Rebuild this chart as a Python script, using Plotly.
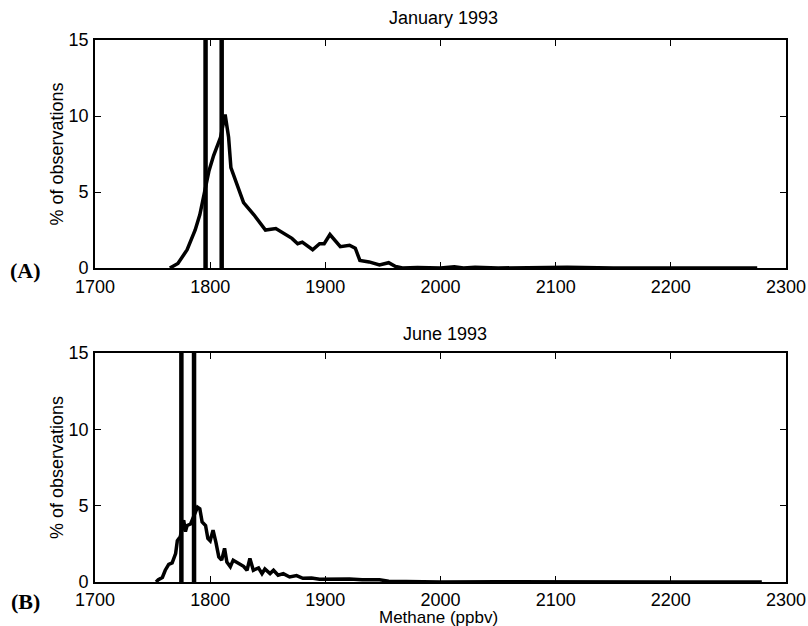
import plotly.graph_objects as go

# Methane frequency distributions (% of observations per ppbv bin)
jan_ppbv = [1765, 1772, 1780, 1787, 1791, 1794, 1799, 1803, 1809, 1813, 1816, 1818,
            1822, 1829, 1838, 1848, 1857, 1863, 1871, 1876, 1880, 1889, 1895, 1899,
            1904, 1913, 1921, 1926, 1930, 1938, 1947, 1955, 1961, 1967, 1980, 2000,
            2012, 2020, 2030, 2050, 2100, 2110, 2150, 2200, 2250, 2275]
jan_pct = [0, 0.3, 1.2, 2.5, 3.5, 4.5, 6.4, 7.4, 8.6, 10.1, 8.6, 6.6,
           5.8, 4.3, 3.5, 2.5, 2.6, 2.3, 1.95, 1.6, 1.7, 1.2, 1.6, 1.6,
           2.2, 1.4, 1.5, 1.3, 0.5, 0.4, 0.2, 0.35, 0.1, 0, 0.03, 0,
           0.08, 0, 0.05, 0, 0.03, 0.05, 0, 0, 0.03, 0]

jun_ppbv = [1753, 1755, 1758.5, 1761, 1764, 1767, 1770, 1771.5, 1774, 1777, 1778.5,
            1780, 1783, 1786, 1789, 1791, 1793, 1796, 1798, 1800, 1802.5, 1805,
            1807.5, 1810, 1812.5, 1814.5, 1817.5, 1820, 1824.5, 1829, 1832, 1834.5,
            1837.5, 1842, 1845, 1847.5, 1852, 1855, 1859, 1863.5, 1869, 1875,
            1880.5, 1888, 1895, 1904, 1912, 1921, 1932, 1947, 1955, 1980, 2000,
            2050, 2100, 2150, 2200, 2279]
jun_pct = [0, 0.15, 0.3, 0.77, 1.16, 1.25, 1.86, 2.7, 2.96, 4.05, 3.3,
           3.7, 3.8, 4.3, 4.9, 4.8, 3.94, 3.7, 2.85, 2.7, 3.4, 2.6,
           1.64, 1.43, 2.2, 1.3, 1.0, 1.43, 1.2, 1.03, 0.77, 1.54,
           0.77, 0.92, 0.55, 0.85, 0.55, 0.77, 0.44, 0.55, 0.33, 0.42,
           0.24, 0.26, 0.18, 0.18, 0.22, 0.2, 0.15, 0.15, 0.05, 0.02, 0,
           0.02, 0, 0.02, 0, 0]

# Reference levels marked by vertical lines (ppbv)
jan_marks = [1796, 1810]
jun_marks = [1775, 1786]

x_ticks = [1700, 1800, 1900, 2000, 2100, 2200, 2300]
y_ticks = [0, 5, 10, 15]

FONT = "Liberation Sans, Arial, Helvetica, sans-serif"
SERIF = "Liberation Serif, Times New Roman, serif"
W, H = 808, 626
ML, MR, MT, MB = 95, 22, 40, 44

fig = go.Figure()

def add_panel(xs, ys, marks, xa, ya):
    fig.add_trace(go.Scatter(x=xs, y=ys, mode="lines", xaxis=xa, yaxis=ya,
                             line=dict(color="black", width=3.5), showlegend=False,
                             hoverinfo="skip"))
    for m in marks:
        fig.add_trace(go.Scatter(x=[m, m], y=[0, 15], mode="lines", xaxis=xa, yaxis=ya,
                                 line=dict(color="black", width=4.5), showlegend=False,
                                 hoverinfo="skip"))

add_panel(jan_ppbv, jan_pct, jan_marks, "x", "y")
add_panel(jun_ppbv, jun_pct, jun_marks, "x2", "y2")

axis_common = dict(showline=True, linecolor="black", linewidth=1.6, mirror="allticks",
                   ticks="inside", ticklen=6, tickwidth=1.4, tickcolor="black",
                   showgrid=False, zeroline=False, automargin=False,
                   tickfont=dict(family=FONT, size=18, color="black"))

xa = dict(axis_common, range=[1700, 2300], tickvals=x_ticks)
ya = dict(axis_common, range=[0, 15], tickvals=y_ticks, ticklabelstandoff=1)
ytitle = dict(text="% of observations", font=dict(family=FONT, size=18, color="black"),
              standoff=0)

def px_x(p):
    return (p - ML) / (W - ML - MR)

def px_y(p):
    return (H - MB - p) / (H - MT - MB)

def label(text, x, y, font):
    return dict(text=text, x=px_x(x), y=px_y(y), xref="paper", yref="paper",
                xanchor="center", yanchor="middle", showarrow=False, font=font)

title_font = dict(family=FONT, size=18, color="black")
tag_font = dict(family=SERIF, size=22, color="black")

fig.update_layout(
    width=W, height=H,
    margin=dict(l=ML, r=MR, t=MT, b=MB),
    paper_bgcolor="white", plot_bgcolor="white",
    xaxis=dict(xa, domain=[0, 1], anchor="y", ticklabelstandoff=2),
    yaxis=dict(ya, domain=[px_y(268), 1.0], anchor="x", title=ytitle),
    xaxis2=dict(xa, domain=[0, 1], anchor="y2", ticklabelstandoff=1),
    yaxis2=dict(ya, domain=[px_y(582), px_y(353)], anchor="x2", title=ytitle),
    annotations=[
        label("January 1993", 443, 18, title_font),
        label("June 1993", 445, 334, title_font),
        label("Methane (ppbv)", 438, 617, dict(family=FONT, size=17, color="black")),
        label("<b>(A)</b>", 25, 270, tag_font),
        label("<b>(B)</b>", 25, 601, tag_font),
    ],
)

fig.write_html("out.html")
